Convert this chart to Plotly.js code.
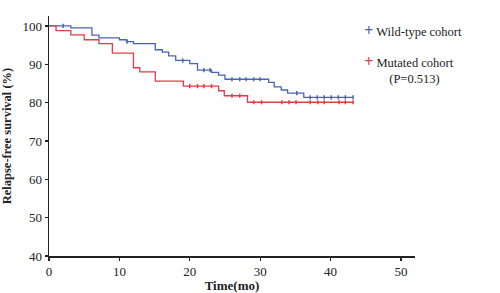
<!DOCTYPE html>
<html>
<head>
<meta charset="utf-8">
<script src="https://cdn.plot.ly/plotly-3.0.1.min.js"></script>
<style>html,body{margin:0;padding:0;background:#fff;}#chart{width:500px;height:293px;}</style>
</head>
<body>
<div id="chart"></div>
<script>
// Wild-type cohort: step curve (time in months, survival %)
const wildTimes = [0, 3.1, 6.1, 7.1, 10, 11, 12, 15.1, 16.1, 17, 18, 20, 21.1, 23.1, 24.1, 25, 31.2, 32, 33, 33.9, 36.2, 43.2];
const wildSurv  = [100, 99.5, 97.6, 96.9, 96.4, 95.9, 95.4, 93.8, 93.2, 92.2, 91.0, 90.2, 88.5, 87.9, 87.2, 86.1, 85.3, 84.1, 83.3, 82.5, 81.4, 81.4];
// Wild-type censored times and levels
const wildCensTimes = [2, 11.1, 19, 22, 22.9, 26, 27.1, 28, 29.1, 30, 35.2, 37.1, 38.1, 39.1, 40.1, 41.1, 42.1, 43.2];
const wildCensSurv  = [100, 95.9, 91.0, 88.5, 88.5, 86.1, 86.1, 86.1, 86.1, 86.1, 82.5, 81.4, 81.4, 81.4, 81.4, 81.4, 81.4, 81.4];

// Mutated cohort
const mutTimes = [0, 1, 3.1, 5, 7.1, 9, 12, 12.9, 15.1, 19.1, 24.1, 24.9, 28.2, 43.2];
const mutSurv  = [100, 98.8, 97.7, 96.4, 95.4, 92.9, 89.1, 88.0, 85.6, 84.3, 83.1, 81.8, 80.1, 80.1];
const mutCensTimes = [20, 21.1, 22, 23.1, 26, 27.1, 29.1, 30.2, 33.1, 34.1, 35.1, 37.1, 38.2, 39.1, 41.2, 42.1, 43.2];
const mutCensSurv  = [84.3, 84.3, 84.3, 84.3, 81.8, 81.8, 80.1, 80.1, 80.1, 80.1, 80.1, 80.1, 80.1, 80.1, 80.1, 80.1, 80.1];

const seriesNames = ["Wild-type cohort", "Mutated cohort"];
const pValueLabel = "(P=0.513)";
const xTicks = [0, 10, 20, 30, 40, 50];
const yTicks = [40, 50, 60, 70, 80, 90, 100];

const blue = "#4a64b4";
const red = "#e63a46";

const plus = (c) => "<span style='color:" + c + ";font-size:16px;font-weight:bold'>+</span> ";
const indent = "\u00a0".repeat(8);

const traces = [
  {x: wildTimes, y: wildSurv, mode: "lines", line: {shape: "hv", color: blue, width: 1.3}, showlegend: false, hoverinfo: "skip"},
  {x: mutTimes, y: mutSurv, mode: "lines", line: {shape: "hv", color: red, width: 1.3}, showlegend: false, hoverinfo: "skip"},
  {x: wildCensTimes, y: wildCensSurv, mode: "markers", marker: {symbol: "line-ns-open", size: 3, color: blue, line: {color: blue, width: 1.5}}, showlegend: false},
  {x: mutCensTimes, y: mutCensSurv, mode: "markers", marker: {symbol: "line-ns-open", size: 3, color: red, line: {color: red, width: 1.5}}, showlegend: false},
  {x: [null], y: [null], mode: "none", name: plus(blue) + seriesNames[0], legendgroup: "a"},
  {x: [null], y: [null], mode: "none", name: plus(red) + seriesNames[1] + "<br>" + indent + pValueLabel, legendgroup: "b"}
];

const fam = "Liberation Serif, Times New Roman, serif";
const font = {family: fam, size: 13, color: "#222"};

const layout = {
  width: 500, height: 293,
  margin: {l: 49, r: 85, t: 16, b: 37, autoexpand: false},
  paper_bgcolor: "#fff", plot_bgcolor: "#fff",
  font: font,
  showlegend: true,
  legend: {x: 0.752, y: 1.0, xref: "paper", xanchor: "left", yanchor: "top", traceorder: "grouped", tracegroupgap: 12,
           font: {family: fam, size: 12.5, color: "#222"}, itemwidth: 30, bgcolor: "rgba(0,0,0,0)"},
  xaxis: {
    range: [0, 52], tickvals: xTicks, ticktext: xTicks.map(String),
    showgrid: false, zeroline: false, showline: true, linecolor: "#222", linewidth: 1.5,
    ticks: "outside", ticklen: 3, tickwidth: 1.2, tickcolor: "#222",
    tickfont: {family: fam, size: 13, color: "#222"},
    title: {text: "<b>Time(mo)</b>", font: {family: fam, size: 13, color: "#222"}, standoff: 1}
  },
  yaxis: {
    range: [40, 102.6], tickvals: yTicks, ticktext: yTicks.map(String),
    showgrid: false, zeroline: false, showline: true, linecolor: "#222", linewidth: 1.5,
    ticks: "outside", ticklen: 3, tickwidth: 1.2, tickcolor: "#222",
    tickfont: {family: fam, size: 13, color: "#222"},
    title: {text: "<b>Relapse-free survival (%)</b>", font: {family: fam, size: 12.5, color: "#222"}, standoff: 8}
  }
};

Plotly.newPlot("chart", traces, layout, {displayModeBar: false, staticPlot: true});
</script>
</body>
</html>
